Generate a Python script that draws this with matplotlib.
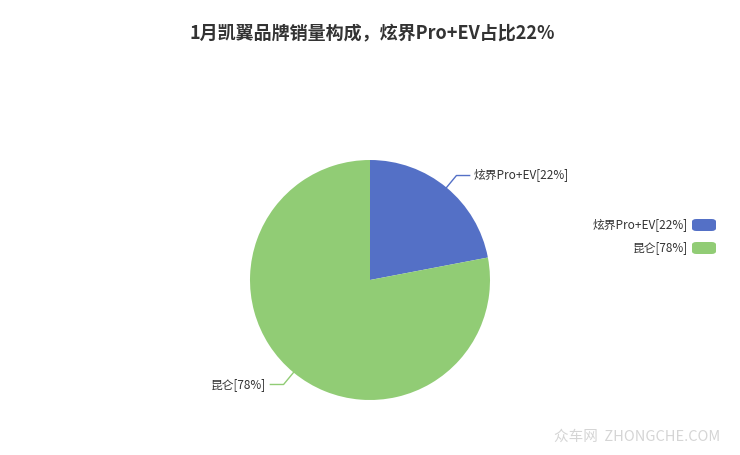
import matplotlib.pyplot as plt
from matplotlib.patches import FancyBboxPatch
import numpy as np

plt.rcParams['font.family'] = ['Noto Sans CJK SC', 'DejaVu Sans']

title = '1月凯翼品牌销量构成，炫界Pro+EV占比22%'
names = ['炫界Pro+EV', '昆仑']
shares = [22, 78]
colors = ['#5470c6', '#91cc75']
labels = [f'{n}[{s}%]' for n, s in zip(names, shares)]

W, H = 740, 455
fig = plt.figure(figsize=(W / 100, H / 100), dpi=100)

# pie axes: center (370, 280) px, radius 120 px
ax = fig.add_axes([250 / W, (H - 400) / H, 240 / W, 240 / H])
wedges, _ = ax.pie(shares, colors=colors, startangle=90, counterclock=False,
                   radius=1, wedgeprops=dict(linewidth=0))
ax.set_xlim(-1, 1)
ax.set_ylim(-1, 1)
ax.set_aspect('equal')
ax.axis('off')

# outside labels with leader lines
for w, lab, c in zip(wedges, labels, colors):
    mid = np.deg2rad((w.theta1 + w.theta2) / 2)
    x0, y0 = np.cos(mid), np.sin(mid)
    x1, y1 = 1.13 * x0, 1.13 * y0
    side = 1 if x0 > 0 else -1
    x2 = x1 + side * 0.11
    ax.plot([x0, x1, x2], [y0, y1, y1], color=c, lw=1, clip_on=False)
    ax.text(x2 + side * 0.035, y1, lab, ha='left' if side > 0 else 'right',
            va='center', fontsize=8.5, color='#333333')

fig.text(372 / W, 1 - 33 / H, title, ha='center', va='center',
         fontsize=13, fontweight='bold', color='#333333')

# legend
for i, (lab, c) in enumerate(zip(labels, colors)):
    yc = 225 + i * 23
    fig.text(688 / W, 1 - yc / H, lab, ha='right', va='center',
             fontsize=8.5, color='#333333')
    box = FancyBboxPatch((692 / W, 1 - (yc + 6) / H), 24 / W, 12 / H,
                         boxstyle='round,pad=0,rounding_size=0.006',
                         transform=fig.transFigure, facecolor=c,
                         edgecolor='none')
    fig.patches.append(box)

fig.text(720 / W, 1 - 437 / H, '众车网  ZHONGCHE.COM', ha='right', va='center',
         fontsize=10.5, color='#d5d5d5')

fig.savefig('out.png', dpi=100, facecolor='white')
